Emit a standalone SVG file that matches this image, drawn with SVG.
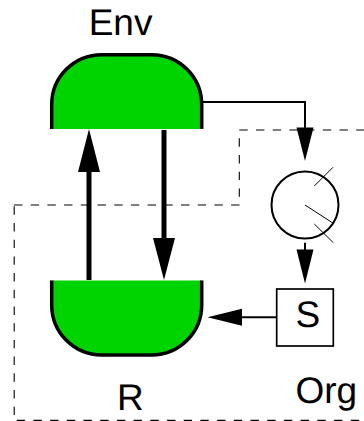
<svg xmlns="http://www.w3.org/2000/svg" width="364" height="421" viewBox="0 0 364 421">
<style>
.lbl{font-family:"Liberation Sans",Arial,sans-serif;font-size:37px;fill:#000;text-rendering:geometricPrecision}
.bag{fill:#00d400;stroke:none}
.rim{fill:none;stroke:#000;stroke-width:3.5}
.thin{fill:none;stroke:#000;stroke-width:2}
.tick{fill:none;stroke:#000;stroke-width:1}
.thick{fill:none;stroke:#000;stroke-width:5}
.head{fill:#000;stroke:none}
.dash{fill:none;stroke:#000;stroke-width:1.1;stroke-dasharray:8.4 8.3}
</style>
<rect width="364" height="421" fill="#fff"/>
<g id="org-boundary">
<path class="dash" d="M239.3 130H364"/>
<path class="dash" d="M239.3 138.3V205"/>
<path class="dash" d="M14 205H240"/>
<path class="dash" d="M14.2 206.3V420"/>
<path class="dash" d="M16.7 420.4H364"/>
</g>
<g id="env">
<path class="bag" d="M51.7 129V104.7A50 50 0 0 1 101.7 54.7H151.7A50 50 0 0 1 201.7 104.7V129Z"/>
<path class="rim" d="M51.7 129V104.7A50 50 0 0 1 101.7 54.7H151.7A50 50 0 0 1 201.7 104.7V129"/>
<text class="lbl" x="88.7" y="35">Env</text>
</g>
<g id="r">
<path class="bag" d="M51.7 280.5V305A50 50 0 0 0 101.7 355H151.7A50 50 0 0 0 201.7 305V280.5Z"/>
<path class="rim" d="M51.7 280.5V305A50 50 0 0 0 101.7 355H151.7A50 50 0 0 0 201.7 305V280.5"/>
<text class="lbl" x="117" y="410">R</text>
</g>
<g id="sensor">
<circle class="thin" cx="305" cy="205" r="33.5"/>
<path class="tick" d="M314.3 186L333 167.3M305 205L333.3 223.3M314.3 224L333.3 242.7"/>
</g>
<g id="s">
<rect x="276.7" y="289" width="56.6" height="57" fill="#fff" stroke="#000" stroke-width="1.7"/>
<text class="lbl" x="295.5" y="327">S</text>
</g>
<g id="org-label"><text class="lbl" x="295.5" y="402.5">Org</text></g>
<g id="connectors">
<path class="thick" d="M89 280V170"/>
<polygon class="head" points="89,129 78,172 100,172"/>
<path class="thick" d="M164 130V240"/>
<polygon class="head" points="164,280 153,238 175,238"/>
<path class="thin" d="M202 102H305V130"/>
<polygon class="head" points="305,161 296.5,127.5 313.5,127.5"/>
<path class="thin" d="M305 242.7V252"/>
<polygon class="head" points="305,283.5 296.5,249.5 313.5,249.5"/>
<path class="thin" d="M276.7 317.3H240"/>
<polygon class="head" points="207.5,317.3 242,308.8 242,325.8"/>
</g>
</svg>
